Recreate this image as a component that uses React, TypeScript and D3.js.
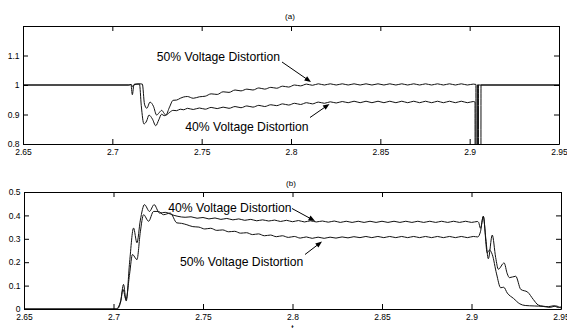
import React, { useRef, useEffect } from 'react';
import * as d3 from 'd3';

const W = 567;
const H = 328;

// tick values and labels (MATLAB style)
const xTicks = [2.65, 2.7, 2.75, 2.8, 2.85, 2.9, 2.95];
const xTickLabels = ['2.65', '2.7', '2.75', '2.8', '2.85', '2.9', '2.95'];
const yTicksA = [0.8, 0.9, 1, 1.1];
const yTickLabelsA = ['0.8', '0.9', '1', '1.1'];
const yTicksB = [0, 0.1, 0.2, 0.3, 0.4, 0.5];
const yTickLabelsB = ['0', '0.1', '0.2', '0.3', '0.4', '0.5'];

// (a) voltage, 40% distortion
const a40: [number, number][] = [
  [2.65, 1.0], [2.709, 1.0], [2.7105, 1.002], [2.7115, 0.994], [2.7125, 1.003],
  [2.7152, 1.003], [2.7162, 0.93], [2.7177, 0.868], [2.7192, 0.878], [2.7205, 0.898],
  [2.7224, 0.885], [2.7243, 0.862], [2.726, 0.882], [2.7276, 0.901], [2.729, 0.896],
  [2.7304, 0.899], [2.7322, 0.908], [2.734, 0.914], [2.736, 0.913], [2.738, 0.918],
  [2.74, 0.916], [2.742, 0.921], [2.7453, 0.917], [2.7487, 0.922], [2.752, 0.918],
  [2.7553, 0.924], [2.7587, 0.92], [2.762, 0.925], [2.7653, 0.921], [2.7687, 0.927],
  [2.772, 0.923], [2.7753, 0.929], [2.7787, 0.925], [2.782, 0.931], [2.7853, 0.927],
  [2.7887, 0.933], [2.792, 0.93], [2.7953, 0.936], [2.7987, 0.932], [2.802, 0.938],
  [2.8053, 0.934], [2.8087, 0.94], [2.812, 0.936], [2.8153, 0.942], [2.8187, 0.938],
  [2.822, 0.943], [2.8253, 0.939], [2.8287, 0.944], [2.832, 0.94], [2.8353, 0.945],
  [2.8387, 0.94], [2.842, 0.945], [2.8453, 0.94], [2.8487, 0.945], [2.852, 0.94],
  [2.8553, 0.945], [2.8587, 0.94], [2.862, 0.945], [2.8653, 0.94], [2.8687, 0.945],
  [2.872, 0.94], [2.8753, 0.945], [2.8787, 0.94], [2.882, 0.945], [2.8853, 0.94],
  [2.8887, 0.945], [2.892, 0.94], [2.8953, 0.945], [2.8987, 0.94], [2.902, 0.944],
  [2.903, 0.942], [2.90305, 0.7], [2.9042, 0.7], [2.90425, 1.0], [2.95, 1.0],
];

// (a) voltage, 50% distortion
const a50: [number, number][] = [
  [2.65, 1.0], [2.7095, 1.0], [2.7104, 1.002], [2.7112, 0.967], [2.7121, 1.001],
  [2.7155, 1.004], [2.7168, 1.003], [2.718, 0.935], [2.7193, 0.921], [2.7211, 0.942],
  [2.723, 0.928], [2.7248, 0.898], [2.7262, 0.906], [2.7276, 0.914], [2.729, 0.904],
  [2.7299, 0.898], [2.732, 0.925], [2.734, 0.948], [2.736, 0.949], [2.738, 0.955],
  [2.7397, 0.959], [2.742, 0.961], [2.7453, 0.955], [2.7487, 0.96], [2.752, 0.962],
  [2.7553, 0.97], [2.7587, 0.968], [2.762, 0.977], [2.7653, 0.975], [2.7687, 0.983],
  [2.772, 0.98], [2.7753, 0.986], [2.7787, 0.983], [2.782, 0.99], [2.7853, 0.986],
  [2.7887, 0.992], [2.792, 0.989], [2.7953, 0.996], [2.7987, 0.993], [2.802, 1.0],
  [2.8053, 0.997], [2.8087, 1.003], [2.812, 0.999], [2.8153, 1.004], [2.8187, 1.0],
  [2.822, 1.004], [2.8253, 1.0], [2.8287, 1.004], [2.832, 1.0], [2.8353, 1.004],
  [2.8387, 1.0], [2.842, 1.004], [2.8453, 1.0], [2.8487, 1.004], [2.852, 1.0],
  [2.8553, 1.004], [2.8587, 1.0], [2.862, 1.004], [2.8653, 1.0], [2.8687, 1.004],
  [2.872, 1.0], [2.8753, 1.004], [2.8787, 1.0], [2.882, 1.004], [2.8853, 1.0],
  [2.8887, 1.004], [2.892, 1.0], [2.8953, 1.004], [2.8987, 1.0], [2.902, 1.003],
  [2.9035, 1.002], [2.90355, 0.7], [2.9045, 0.7], [2.90455, 1.0], [2.9049, 1.0],
  [2.90495, 0.7], [2.9063, 0.7], [2.90635, 1.0], [2.95, 1.0],
];

// (b) current, 40% distortion
const b40: [number, number][] = [
  [2.65, 0], [2.7015, 0], [2.704, 0.035], [2.7056, 0.105], [2.7071, 0.034],
  [2.709, 0.2], [2.7112, 0.346], [2.7131, 0.283], [2.715, 0.38], [2.7173, 0.446],
  [2.7201, 0.417], [2.7227, 0.446], [2.7257, 0.41], [2.7289, 0.413], [2.7326, 0.403],
  [2.736, 0.396], [2.74, 0.392], [2.7433, 0.394], [2.7467, 0.388], [2.75, 0.391],
  [2.7533, 0.385], [2.7567, 0.389], [2.76, 0.383], [2.7633, 0.387], [2.7667, 0.381],
  [2.77, 0.385], [2.7733, 0.379], [2.7767, 0.383], [2.78, 0.377], [2.7833, 0.381],
  [2.7867, 0.376], [2.79, 0.38], [2.7933, 0.374], [2.7967, 0.379], [2.8, 0.373],
  [2.8033, 0.378], [2.8067, 0.372], [2.81, 0.377], [2.8133, 0.372], [2.8167, 0.376],
  [2.82, 0.371], [2.8233, 0.376], [2.8267, 0.37], [2.83, 0.375], [2.8333, 0.37],
  [2.8367, 0.375], [2.84, 0.37], [2.8433, 0.375], [2.8467, 0.37], [2.85, 0.375],
  [2.8533, 0.37], [2.8567, 0.375], [2.86, 0.37], [2.8633, 0.375], [2.8667, 0.37],
  [2.87, 0.375], [2.8733, 0.37], [2.8767, 0.375], [2.88, 0.37], [2.8833, 0.375],
  [2.8867, 0.37], [2.89, 0.375], [2.8933, 0.37], [2.8967, 0.375], [2.9, 0.37],
  [2.9033, 0.374], [2.904, 0.37], [2.905, 0.345], [2.9066, 0.396], [2.908, 0.3],
  [2.9094, 0.215], [2.9116, 0.316], [2.9135, 0.22], [2.915, 0.17], [2.9182, 0.197],
  [2.92, 0.15], [2.9212, 0.134], [2.9247, 0.14], [2.9275, 0.084], [2.9314, 0.072],
  [2.9345, 0.041], [2.9373, 0.017], [2.94, 0.012], [2.943, 0.01], [2.946, 0.014],
  [2.9485, 0.006], [2.95, 0.009],
];

// (b) current, 50% distortion
const b50: [number, number][] = [
  [2.65, 0], [2.702, 0], [2.704, 0.03], [2.7053, 0.084], [2.707, 0.04],
  [2.709, 0.15], [2.7106, 0.233], [2.7131, 0.211], [2.715, 0.33], [2.7168, 0.403],
  [2.7196, 0.375], [2.7224, 0.417], [2.7251, 0.417], [2.7279, 0.403], [2.7317, 0.41],
  [2.7354, 0.368], [2.738, 0.366], [2.741, 0.36], [2.7443, 0.352], [2.7477, 0.35],
  [2.751, 0.342], [2.7543, 0.345], [2.7577, 0.336], [2.761, 0.338], [2.7643, 0.33],
  [2.7677, 0.332], [2.771, 0.324], [2.7743, 0.326], [2.7777, 0.318], [2.781, 0.321],
  [2.7843, 0.313], [2.7877, 0.316], [2.791, 0.309], [2.7943, 0.313], [2.7977, 0.306],
  [2.801, 0.31], [2.8043, 0.303], [2.8077, 0.308], [2.811, 0.302], [2.8143, 0.307],
  [2.8177, 0.302], [2.821, 0.307], [2.8243, 0.303], [2.8277, 0.308], [2.831, 0.304],
  [2.8343, 0.309], [2.8377, 0.305], [2.841, 0.31], [2.8443, 0.305], [2.8477, 0.31],
  [2.851, 0.305], [2.8543, 0.31], [2.8577, 0.305], [2.861, 0.31], [2.8643, 0.305],
  [2.8677, 0.31], [2.871, 0.305], [2.8743, 0.31], [2.8777, 0.305], [2.881, 0.31],
  [2.8843, 0.305], [2.8877, 0.31], [2.891, 0.305], [2.8943, 0.31], [2.8977, 0.305],
  [2.901, 0.31], [2.9035, 0.308], [2.905, 0.33], [2.9066, 0.396], [2.9088, 0.24],
  [2.91, 0.252], [2.9116, 0.233], [2.914, 0.15], [2.9163, 0.091], [2.918, 0.093],
  [2.92, 0.068], [2.9235, 0.045], [2.927, 0.022], [2.93, 0.015], [2.935, 0.013],
  [2.94, 0.011], [2.944, 0.007], [2.947, 0.013], [2.95, 0.004],
];

const FONT = '"Liberation Sans", Arial, Helvetica, sans-serif';

export default function App() {
  const svgRef = useRef<SVGSVGElement>(null);

  useEffect(() => {
    document.body.style.margin = '0';
    const svg = d3.select(svgRef.current);
    svg.selectAll('*').remove();

    const panels = [
      {
        id: 'a', title: '(a)', left: 23, right: 559, top: 26, bottom: 144,
        yDomain: [0.8, 1.2], yTicks: yTicksA, yLabels: yTickLabelsA,
        series: [a40, a50], titleX: 290, titleY: 18.5,
        notes: [
          { text: '50% Voltage Distortion', x: 156.7, y: 60.5, from: [282, 62], to: [311, 82] },
          { text: '40% Voltage Distortion', x: 185.3, y: 130.5, from: [310, 117.5], to: [329.5, 104] },
        ],
      },
      {
        id: 'b', title: '(b)', left: 24, right: 561, top: 192, bottom: 309,
        yDomain: [0, 0.5], yTicks: yTicksB, yLabels: yTickLabelsB,
        series: [b40, b50], titleX: 291, titleY: 185.5,
        notes: [
          { text: '40% Voltage Distortion', x: 168.3, y: 212.3, from: [292, 208.5], to: [315, 221] },
          { text: '50% Voltage Distortion', x: 180, y: 266, from: [305, 254.5], to: [322, 241.5] },
        ],
      },
    ];

    panels.forEach(p => {
      const x = d3.scaleLinear().domain([2.65, 2.95]).range([p.left, p.right]);
      const y = d3.scaleLinear().domain(p.yDomain).range([p.bottom, p.top]);
      const g = svg.append('g');

      g.append('clipPath')
        .attr('id', `clip-${p.id}`)
        .append('rect')
        .attr('x', p.left)
        .attr('y', p.top)
        .attr('width', p.right - p.left)
        .attr('height', p.bottom - p.top);

      const line = d3
        .line<[number, number]>()
        .x(d => x(d[0]))
        .y(d => y(d[1]))
        .curve(d3.curveMonotoneX);

      g.append('g')
        .attr('clip-path', `url(#clip-${p.id})`)
        .selectAll('path')
        .data(p.series)
        .enter()
        .append('path')
        .attr('d', d => line(d))
        .attr('fill', 'none')
        .attr('stroke', '#111')
        .attr('stroke-width', 1);

      // axes, ticks pointing inward on all four sides
      const styleAxis = (sel: any) =>
        sel.attr('font-size', 8.5).attr('font-family', FONT)
          .call((s: any) => s.selectAll('text').attr('fill', '#000'));

      g.append('g')
        .attr('transform', `translate(0,${p.bottom})`)
        .call(d3.axisBottom(x).tickValues(xTicks)
          .tickFormat((_, i) => xTickLabels[i])
          .tickSizeInner(-5).tickSizeOuter(0).tickPadding(5))
        .call(styleAxis);
      g.append('g')
        .attr('transform', `translate(0,${p.top})`)
        .call(d3.axisTop(x).tickValues(xTicks).tickFormat(() => '')
          .tickSizeInner(-5).tickSizeOuter(0));
      g.append('g')
        .attr('transform', `translate(${p.left},0)`)
        .call(d3.axisLeft(y).tickValues(p.yTicks)
          .tickFormat((_, i) => p.yLabels[i])
          .tickSizeInner(-5).tickSizeOuter(0).tickPadding(3.5))
        .call(styleAxis);
      g.append('g')
        .attr('transform', `translate(${p.right},0)`)
        .call(d3.axisRight(y).tickValues(p.yTicks).tickFormat(() => '')
          .tickSizeInner(-5).tickSizeOuter(0));

      g.append('text')
        .attr('x', p.titleX)
        .attr('y', p.titleY)
        .attr('text-anchor', 'middle')
        .attr('font-family', FONT)
        .attr('font-size', 8)
        .text(p.title);

      // labels with arrows
      p.notes.forEach(n => {
        g.append('text')
          .attr('x', n.x)
          .attr('y', n.y)
          .attr('font-family', FONT)
          .attr('font-size', 12.2)
          .attr('fill', '#000')
          .text(n.text);
        const [x0, y0] = n.from;
        const [x1, y1] = n.to;
        const len = Math.hypot(x1 - x0, y1 - y0);
        const ux = (x1 - x0) / len;
        const uy = (y1 - y0) / len;
        const L = 6.5;
        const Wd = 2.6;
        g.append('line')
          .attr('x1', x0).attr('y1', y0)
          .attr('x2', x1 - ux * L * 0.8).attr('y2', y1 - uy * L * 0.8)
          .attr('stroke', '#000').attr('stroke-width', 1);
        g.append('path')
          .attr('d', `M${x1},${y1}L${x1 - ux * L - uy * Wd},${y1 - uy * L + ux * Wd}L${x1 - ux * L + uy * Wd},${y1 - uy * L - ux * Wd}Z`)
          .attr('fill', '#000');
      });
    });

    // x label of lower panel, mostly cut off by the page edge
    svg.append('text')
      .attr('x', 292.5)
      .attr('y', 331)
      .attr('text-anchor', 'middle')
      .attr('font-family', FONT)
      .attr('font-size', 9)
      .text('t');
  }, []);

  return (
    <svg
      ref={svgRef}
      width={W}
      height={H}
      style={{ display: 'block', background: '#fff' }}
    />
  );
}
